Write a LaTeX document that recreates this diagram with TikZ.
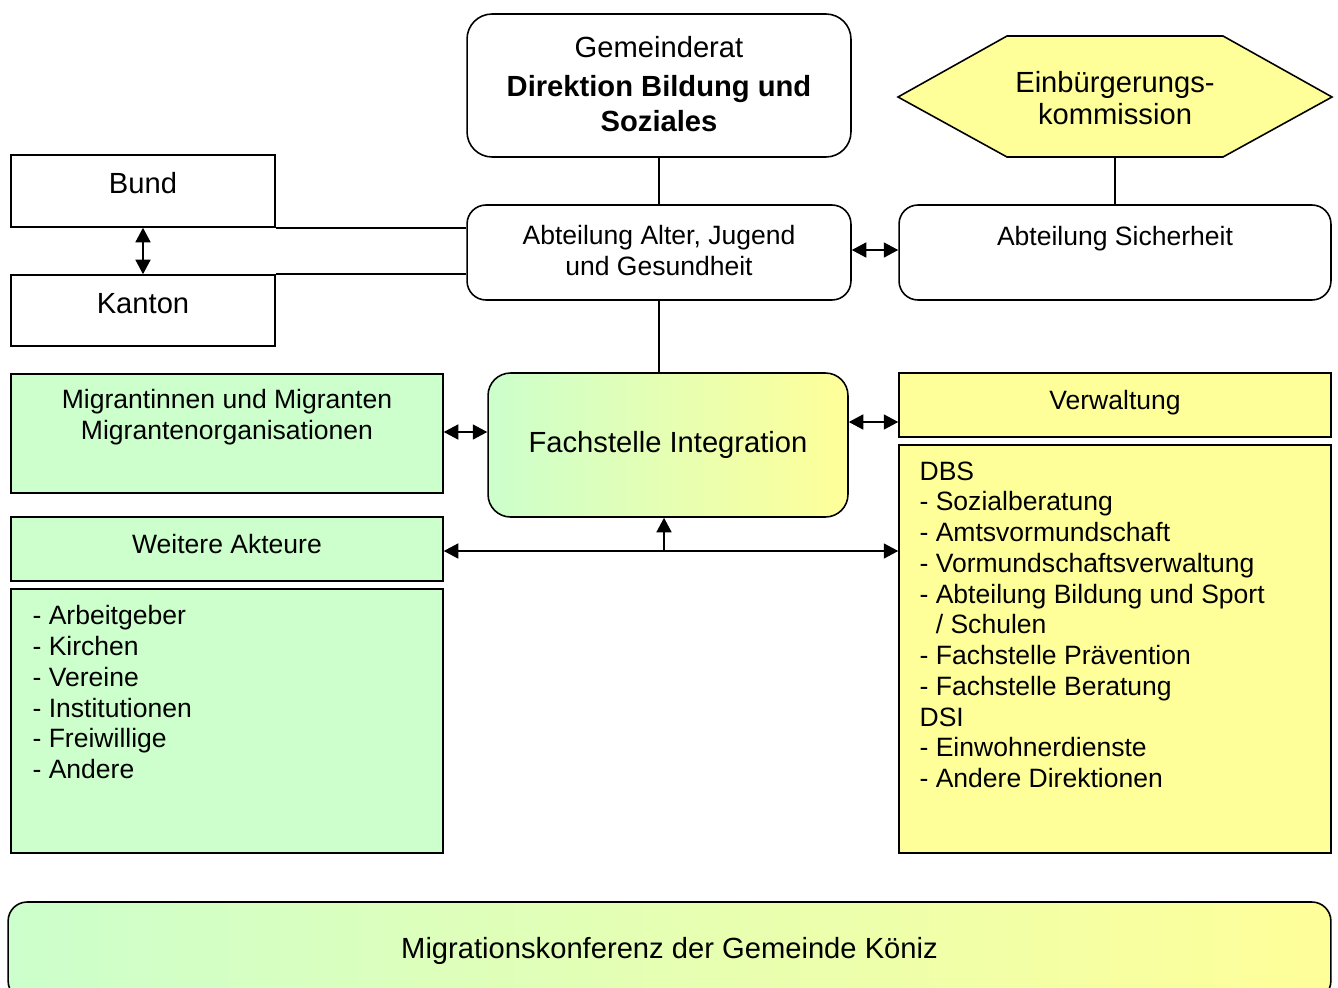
\documentclass[tikz,border=0pt]{standalone}
\usepackage{fontspec}
\setmainfont{Liberation Sans}
\usetikzlibrary{arrows.meta}

\definecolor{mintgreen}{HTML}{CCFFCC}
\definecolor{paleyellow}{HTML}{FFFF99}
\newcommand{\bigtxt}{\fontsize{16.6}{19}\selectfont}
\newcommand{\smalltxt}{\fontsize{15.1}{17.5}\selectfont}

\tikzset{
  plainbox/.style={draw=black, line width=0.9pt, inner sep=0pt, align=center},
  roundbox/.style={plainbox, rounded corners=0.38cm},
  greenbox/.style={plainbox, fill=mintgreen},
  yellowbox/.style={plainbox, fill=paleyellow},
  mixbox/.style={roundbox, left color=mintgreen, right color=paleyellow},
  boxtext/.style={align=center, inner sep=0pt},
  listtext/.style={align=left, inner sep=0pt, anchor=north west},
  link/.style={line width=0.9pt},
}

\begin{document}
\begin{tikzpicture}[x=0.02cm, y=-0.02cm, font=\smalltxt,
    >={Triangle[length=0.29cm, width=0.3cm]}]
  \useasboundingbox (0,0) rectangle (1338,987);

  % top row
  \node[roundbox, rounded corners=0.5cm, minimum width=7.68cm, minimum height=2.86cm,
    label={[boxtext, font=\fontsize{16.6}{20}\selectfont, yshift=0.03cm]center:Gemeinderat\\[2pt]\textbf{Direktion Bildung und}\\\textbf{Soziales}}]
    (gemeinderat) at (659,85.5) {};
  \draw[link, fill=paleyellow] (898,97) -- (1007,36) -- (1223,36) -- (1332,97) -- (1223,157) -- (1007,157) -- cycle;
  \node[boxtext, font=\bigtxt] (einbuergerung) at (1115,98) {Einbürgerungs-\\[-1pt]kommission};
  \coordinate (einbuergerung-s) at (1115,157);

  % Bund und Kanton
  \node[plainbox, minimum width=5.28cm, minimum height=1.44cm,
    label={[boxtext, font=\bigtxt, yshift=0.16cm]center:Bund}] (bund) at (143,191) {};
  \node[plainbox, minimum width=5.28cm, minimum height=1.42cm,
    label={[boxtext, font=\bigtxt, yshift=0.13cm]center:Kanton}] (kanton) at (143,310.5) {};

  % Abteilungen
  \node[roundbox, minimum width=7.68cm, minimum height=1.9cm,
    label={[boxtext, yshift=0.04cm]center:Abteilung Alter, Jugend\\und Gesundheit}]
    (alter) at (659,252.5) {};
  \node[roundbox, minimum width=8.64cm, minimum height=1.9cm,
    label={[boxtext, yshift=0.27cm]center:Abteilung Sicherheit}] (sicherheit) at (1115,252.5) {};

  % Fachstelle und Partner
  \node[greenbox, minimum width=8.64cm, minimum height=2.38cm,
    label={[boxtext, yshift=0.32cm]center:Migrantinnen und Migranten\\Migrantenorganisationen}] (migranten) at (227,433.5) {};
  \node[mixbox, rounded corners=0.45cm, minimum width=7.2cm, minimum height=2.88cm, font=\bigtxt]
    (fachstelle) at (668,445) {Fachstelle Integration};
  \node[yellowbox, minimum width=8.64cm, minimum height=1.28cm,
    label={[boxtext, yshift=0.04cm]center:Verwaltung}] (verwaltung) at (1115,405) {};
  \node[yellowbox, minimum width=8.64cm, minimum height=8.16cm,
    label={[listtext, xshift=0.42cm, yshift=-0.34cm]north west:DBS\\- Sozialberatung\\- Amtsvormundschaft\\- Vormundschaftsverwaltung\\- Abteilung Bildung und Sport\\\hphantom{-} / Schulen\\- Fachstelle Prävention\\- Fachstelle Beratung\\DSI\\- Einwohnerdienste\\- Andere Direktionen}]
    (dbs) at (1115,649) {};
  \node[greenbox, minimum width=8.64cm, minimum height=1.28cm,
    label={[boxtext, yshift=0.1cm]center:Weitere Akteure}] (akteure) at (227,549) {};
  \node[greenbox, minimum width=8.64cm, minimum height=5.28cm,
    label={[listtext, xshift=0.44cm, yshift=-0.34cm]north west:- Arbeitgeber\\- Kirchen\\- Vereine\\- Institutionen\\- Freiwillige\\- Andere}]
    (liste) at (227,721) {};

  % Konferenz
  \node[mixbox, minimum width=26.46cm, minimum height=1.96cm, font=\bigtxt]
    (konferenz) at (669.5,951) {Migrationskonferenz der Gemeinde Köniz};

  % connectors
  \draw[link] (gemeinderat.south) -- (alter.north);
  \draw[link] (einbuergerung-s) -- (sicherheit.north);
  \draw[link] (bund.south east) -- (bund.south east -| alter.west);
  \draw[link] (kanton.north east) -- (kanton.north east -| alter.west);
  \draw[link, <->] (bund.south) -- (kanton.north);
  \draw[link, <->] ([yshift=0.05cm]alter.east) -- ([yshift=0.05cm]sicherheit.west);
  \draw[link] (alter.south) -- (alter.south |- fachstelle.north);
  \draw[link, <->] ([yshift=0.03cm]migranten.east) -- ([yshift=0.03cm]migranten.east -| fachstelle.west);
  \draw[link, <->] ([yshift=0.46cm]fachstelle.east) -- ([yshift=0.46cm]fachstelle.east -| verwaltung.west);
  \draw[link, <->] ([yshift=-0.04cm]akteure.east) -- ([yshift=-0.04cm]akteure.east -| dbs.west);
  \draw[link, ->] ([xshift=-0.08cm,yshift=-0.04cm]fachstelle.south |- akteure.east) -- ([xshift=-0.08cm]fachstelle.south);
\end{tikzpicture}
\end{document}
